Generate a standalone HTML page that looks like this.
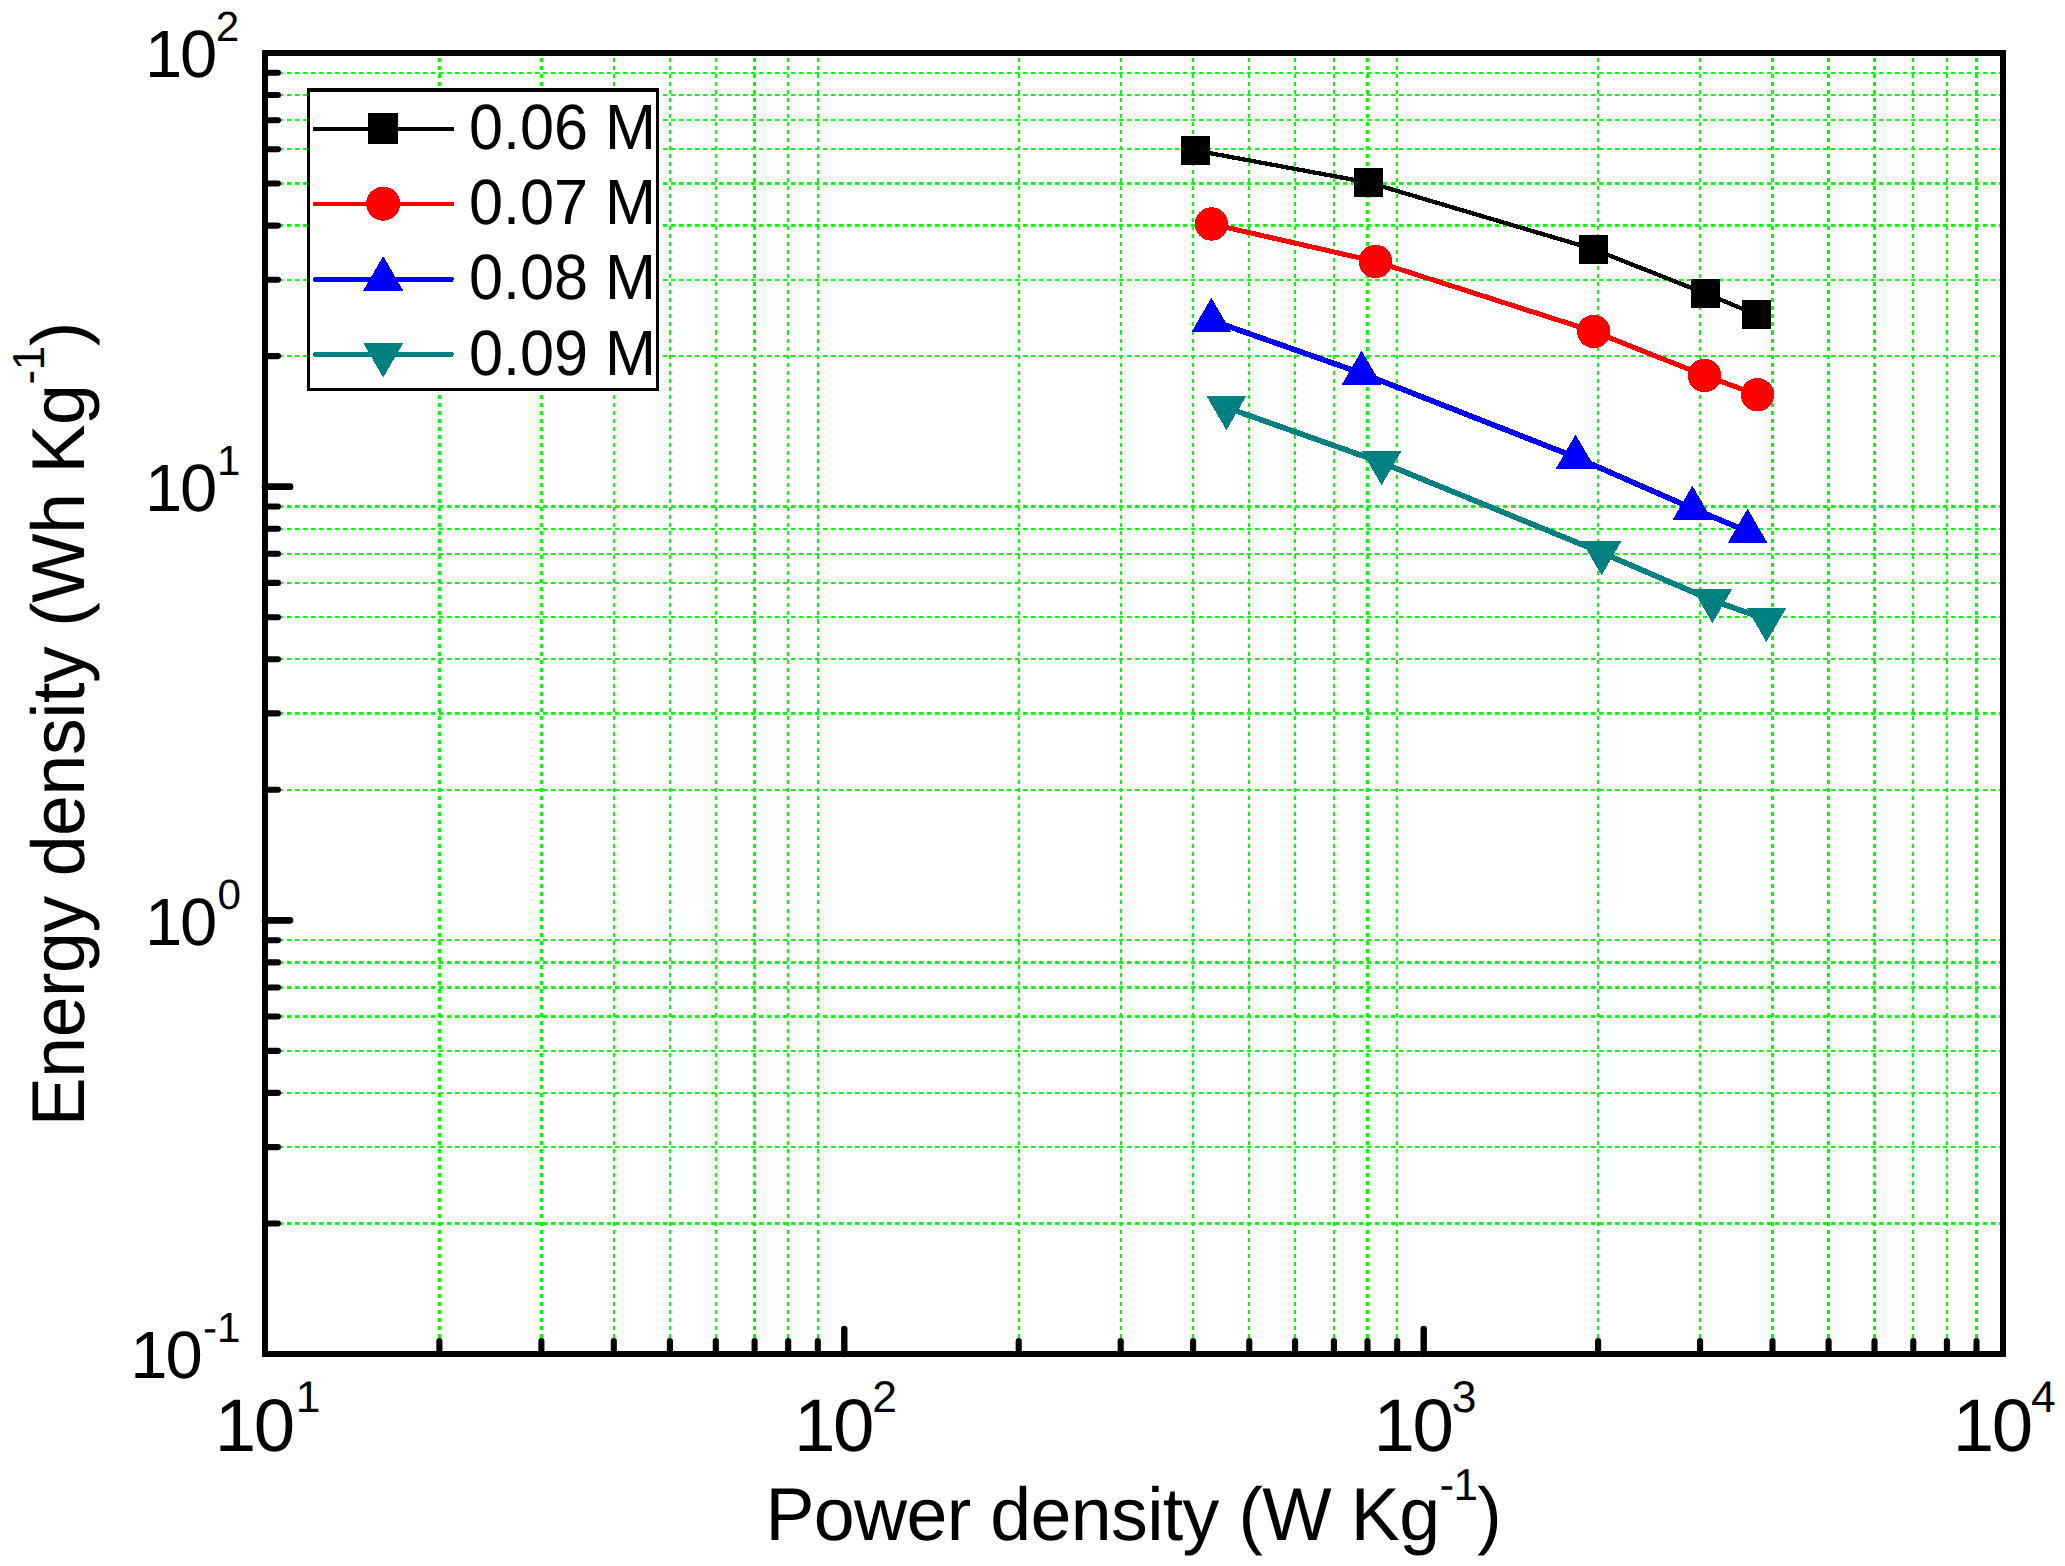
<!DOCTYPE html>
<html lang="en"><head><meta charset="utf-8"><title>Ragone plot</title>
<style>html,body{margin:0;padding:0;background:#fff}body{width:2065px;height:1566px;overflow:hidden}</style></head>
<body>
<svg width="2065" height="1566" viewBox="0 0 2065 1566" style="display:block">
<rect x="0" y="0" width="2065" height="1566" fill="#ffffff"/>
<g stroke="#00ff00" stroke-width="2.3" stroke-dasharray="4 4" fill="none" shape-rendering="crispEdges">
<line x1="439.4" y1="1354.0" x2="439.4" y2="53.0" stroke-dasharray="4.014 4.014" stroke-dashoffset="0.06"/>
<line x1="541.4" y1="1354.0" x2="541.4" y2="53.0" stroke-dasharray="4.014 4.014" stroke-dashoffset="0.06"/>
<line x1="613.8" y1="1354.0" x2="613.8" y2="53.0" stroke-dasharray="4.014 4.014" stroke-dashoffset="0.06"/>
<line x1="669.9" y1="1354.0" x2="669.9" y2="53.0" stroke-dasharray="4.014 4.014" stroke-dashoffset="0.06"/>
<line x1="715.8" y1="1354.0" x2="715.8" y2="53.0" stroke-dasharray="4.014 4.014" stroke-dashoffset="0.06"/>
<line x1="754.6" y1="1354.0" x2="754.6" y2="53.0" stroke-dasharray="4.014 4.014" stroke-dashoffset="0.06"/>
<line x1="788.2" y1="1354.0" x2="788.2" y2="53.0" stroke-dasharray="4.014 4.014" stroke-dashoffset="0.06"/>
<line x1="817.8" y1="1354.0" x2="817.8" y2="53.0" stroke-dasharray="4.014 4.014" stroke-dashoffset="0.06"/>
<line x1="1018.7" y1="1354.0" x2="1018.7" y2="53.0" stroke-dasharray="4.014 4.014" stroke-dashoffset="0.06"/>
<line x1="1120.7" y1="1354.0" x2="1120.7" y2="53.0" stroke-dasharray="4.014 4.014" stroke-dashoffset="0.06"/>
<line x1="1193.1" y1="1354.0" x2="1193.1" y2="53.0" stroke-dasharray="4.014 4.014" stroke-dashoffset="0.06"/>
<line x1="1249.3" y1="1354.0" x2="1249.3" y2="53.0" stroke-dasharray="4.014 4.014" stroke-dashoffset="0.06"/>
<line x1="1295.1" y1="1354.0" x2="1295.1" y2="53.0" stroke-dasharray="4.014 4.014" stroke-dashoffset="0.06"/>
<line x1="1333.9" y1="1354.0" x2="1333.9" y2="53.0" stroke-dasharray="4.014 4.014" stroke-dashoffset="0.06"/>
<line x1="1367.5" y1="1354.0" x2="1367.5" y2="53.0" stroke-dasharray="4.014 4.014" stroke-dashoffset="0.06"/>
<line x1="1397.2" y1="1354.0" x2="1397.2" y2="53.0" stroke-dasharray="4.014 4.014" stroke-dashoffset="0.06"/>
<line x1="1598.1" y1="1354.0" x2="1598.1" y2="53.0" stroke-dasharray="4.014 4.014" stroke-dashoffset="0.06"/>
<line x1="1700.1" y1="1354.0" x2="1700.1" y2="53.0" stroke-dasharray="4.014 4.014" stroke-dashoffset="0.06"/>
<line x1="1772.5" y1="1354.0" x2="1772.5" y2="53.0" stroke-dasharray="4.014 4.014" stroke-dashoffset="0.06"/>
<line x1="1828.6" y1="1354.0" x2="1828.6" y2="53.0" stroke-dasharray="4.014 4.014" stroke-dashoffset="0.06"/>
<line x1="1874.5" y1="1354.0" x2="1874.5" y2="53.0" stroke-dasharray="4.014 4.014" stroke-dashoffset="0.06"/>
<line x1="1913.3" y1="1354.0" x2="1913.3" y2="53.0" stroke-dasharray="4.014 4.014" stroke-dashoffset="0.06"/>
<line x1="1946.9" y1="1354.0" x2="1946.9" y2="53.0" stroke-dasharray="4.014 4.014" stroke-dashoffset="0.06"/>
<line x1="1976.5" y1="1354.0" x2="1976.5" y2="53.0" stroke-dasharray="4.014 4.014" stroke-dashoffset="0.06"/>
<line x1="263" y1="1223.5" x2="2003.0" y2="1223.5"/>
<line x1="263" y1="1147.1" x2="2003.0" y2="1147.1"/>
<line x1="263" y1="1092.9" x2="2003.0" y2="1092.9"/>
<line x1="263" y1="1050.9" x2="2003.0" y2="1050.9"/>
<line x1="263" y1="1016.5" x2="2003.0" y2="1016.5"/>
<line x1="263" y1="987.5" x2="2003.0" y2="987.5"/>
<line x1="263" y1="962.4" x2="2003.0" y2="962.4"/>
<line x1="263" y1="940.2" x2="2003.0" y2="940.2"/>
<line x1="263" y1="789.8" x2="2003.0" y2="789.8"/>
<line x1="263" y1="713.4" x2="2003.0" y2="713.4"/>
<line x1="263" y1="659.2" x2="2003.0" y2="659.2"/>
<line x1="263" y1="617.2" x2="2003.0" y2="617.2"/>
<line x1="263" y1="582.9" x2="2003.0" y2="582.9"/>
<line x1="263" y1="553.8" x2="2003.0" y2="553.8"/>
<line x1="263" y1="528.7" x2="2003.0" y2="528.7"/>
<line x1="263" y1="506.5" x2="2003.0" y2="506.5"/>
<line x1="263" y1="356.1" x2="2003.0" y2="356.1"/>
<line x1="263" y1="279.8" x2="2003.0" y2="279.8"/>
<line x1="263" y1="225.6" x2="2003.0" y2="225.6"/>
<line x1="263" y1="183.5" x2="2003.0" y2="183.5"/>
<line x1="263" y1="149.2" x2="2003.0" y2="149.2"/>
<line x1="263" y1="120.2" x2="2003.0" y2="120.2"/>
<line x1="263" y1="95.0" x2="2003.0" y2="95.0"/>
<line x1="263" y1="72.8" x2="2003.0" y2="72.8"/>
</g>
<g shape-rendering="crispEdges">
<polyline points="1195.5,150.5 1368.5,182.5 1593.0,249.0 1705.5,293.5 1756.5,314.5" fill="none" stroke="#000000" stroke-width="4.3" stroke-linejoin="round"/>
<rect x="1181.0" y="136.0" width="29" height="29" fill="#000000"/>
<rect x="1354.0" y="168.0" width="29" height="29" fill="#000000"/>
<rect x="1578.5" y="234.5" width="29" height="29" fill="#000000"/>
<rect x="1691.0" y="279.0" width="29" height="29" fill="#000000"/>
<rect x="1742.0" y="300.0" width="29" height="29" fill="#000000"/>
<polyline points="1211.5,224.0 1375.5,261.5 1593.8,331.5 1704.5,375.5 1757.5,394.8" fill="none" stroke="#ff0000" stroke-width="5" stroke-linejoin="round"/>
<circle cx="1211.5" cy="224.0" r="16.7" fill="#ff0000"/>
<circle cx="1375.5" cy="261.5" r="16.7" fill="#ff0000"/>
<circle cx="1593.8" cy="331.5" r="16.7" fill="#ff0000"/>
<circle cx="1704.5" cy="375.5" r="16.7" fill="#ff0000"/>
<circle cx="1757.5" cy="394.8" r="16.7" fill="#ff0000"/>
<polyline points="1211.4,320.4 1361.6,373.2 1575.6,457.2 1692.4,508.4 1747.6,531.4" fill="none" stroke="#0000ff" stroke-width="5.6" stroke-linejoin="round"/>
<polygon points="1211.4,297.7 1231.1,331.7 1191.7,331.7" fill="#0000ff"/>
<polygon points="1361.6,350.5 1381.3,384.5 1341.9,384.5" fill="#0000ff"/>
<polygon points="1575.6,434.5 1595.3,468.5 1555.9,468.5" fill="#0000ff"/>
<polygon points="1692.4,485.7 1712.1,519.7 1672.7,519.7" fill="#0000ff"/>
<polygon points="1747.6,508.7 1767.3,542.7 1727.9,542.7" fill="#0000ff"/>
<polyline points="1226.4,407.5 1381.6,462.5 1601.6,552.6 1712.4,600.4 1766.4,619.4" fill="none" stroke="#008080" stroke-width="5.6" stroke-linejoin="round"/>
<polygon points="1226.4,430.2 1246.1,396.2 1206.7,396.2" fill="#008080"/>
<polygon points="1381.6,485.2 1401.3,451.2 1361.9,451.2" fill="#008080"/>
<polygon points="1601.6,575.3 1621.3,541.3 1581.9,541.3" fill="#008080"/>
<polygon points="1712.4,623.1 1732.1,589.1 1692.7,589.1" fill="#008080"/>
<polygon points="1766.4,642.1 1786.1,608.1 1746.7,608.1" fill="#008080"/>
</g>
<g stroke="#000" stroke-width="6.1" stroke-linecap="round" fill="none">
<line x1="439.4" y1="1354.0" x2="439.4" y2="1341.0"/>
<line x1="541.4" y1="1354.0" x2="541.4" y2="1341.0"/>
<line x1="613.8" y1="1354.0" x2="613.8" y2="1341.0"/>
<line x1="669.9" y1="1354.0" x2="669.9" y2="1341.0"/>
<line x1="715.8" y1="1354.0" x2="715.8" y2="1341.0"/>
<line x1="754.6" y1="1354.0" x2="754.6" y2="1341.0"/>
<line x1="788.2" y1="1354.0" x2="788.2" y2="1341.0"/>
<line x1="817.8" y1="1354.0" x2="817.8" y2="1341.0"/>
<line x1="844.3" y1="1354.0" x2="844.3" y2="1329.0" stroke-width="6.4"/>
<line x1="1018.7" y1="1354.0" x2="1018.7" y2="1341.0"/>
<line x1="1120.7" y1="1354.0" x2="1120.7" y2="1341.0"/>
<line x1="1193.1" y1="1354.0" x2="1193.1" y2="1341.0"/>
<line x1="1249.3" y1="1354.0" x2="1249.3" y2="1341.0"/>
<line x1="1295.1" y1="1354.0" x2="1295.1" y2="1341.0"/>
<line x1="1333.9" y1="1354.0" x2="1333.9" y2="1341.0"/>
<line x1="1367.5" y1="1354.0" x2="1367.5" y2="1341.0"/>
<line x1="1397.2" y1="1354.0" x2="1397.2" y2="1341.0"/>
<line x1="1423.7" y1="1354.0" x2="1423.7" y2="1329.0" stroke-width="6.4"/>
<line x1="1598.1" y1="1354.0" x2="1598.1" y2="1341.0"/>
<line x1="1700.1" y1="1354.0" x2="1700.1" y2="1341.0"/>
<line x1="1772.5" y1="1354.0" x2="1772.5" y2="1341.0"/>
<line x1="1828.6" y1="1354.0" x2="1828.6" y2="1341.0"/>
<line x1="1874.5" y1="1354.0" x2="1874.5" y2="1341.0"/>
<line x1="1913.3" y1="1354.0" x2="1913.3" y2="1341.0"/>
<line x1="1946.9" y1="1354.0" x2="1946.9" y2="1341.0"/>
<line x1="1976.5" y1="1354.0" x2="1976.5" y2="1341.0"/>
<line x1="265.0" y1="1223.5" x2="278.0" y2="1223.5"/>
<line x1="265.0" y1="1147.1" x2="278.0" y2="1147.1"/>
<line x1="265.0" y1="1092.9" x2="278.0" y2="1092.9"/>
<line x1="265.0" y1="1050.9" x2="278.0" y2="1050.9"/>
<line x1="265.0" y1="1016.5" x2="278.0" y2="1016.5"/>
<line x1="265.0" y1="987.5" x2="278.0" y2="987.5"/>
<line x1="265.0" y1="962.4" x2="278.0" y2="962.4"/>
<line x1="265.0" y1="940.2" x2="278.0" y2="940.2"/>
<line x1="265.0" y1="920.3" x2="290.0" y2="920.3" stroke-width="6.7"/>
<line x1="265.0" y1="789.8" x2="278.0" y2="789.8"/>
<line x1="265.0" y1="713.4" x2="278.0" y2="713.4"/>
<line x1="265.0" y1="659.2" x2="278.0" y2="659.2"/>
<line x1="265.0" y1="617.2" x2="278.0" y2="617.2"/>
<line x1="265.0" y1="582.9" x2="278.0" y2="582.9"/>
<line x1="265.0" y1="553.8" x2="278.0" y2="553.8"/>
<line x1="265.0" y1="528.7" x2="278.0" y2="528.7"/>
<line x1="265.0" y1="506.5" x2="278.0" y2="506.5"/>
<line x1="265.0" y1="486.7" x2="290.0" y2="486.7" stroke-width="6.7"/>
<line x1="265.0" y1="356.1" x2="278.0" y2="356.1"/>
<line x1="265.0" y1="279.8" x2="278.0" y2="279.8"/>
<line x1="265.0" y1="225.6" x2="278.0" y2="225.6"/>
<line x1="265.0" y1="183.5" x2="278.0" y2="183.5"/>
<line x1="265.0" y1="149.2" x2="278.0" y2="149.2"/>
<line x1="265.0" y1="120.2" x2="278.0" y2="120.2"/>
<line x1="265.0" y1="95.0" x2="278.0" y2="95.0"/>
<line x1="265.0" y1="72.8" x2="278.0" y2="72.8"/>
</g>
<rect x="265.0" y="53.0" width="1738.0" height="1301.0" fill="none" stroke="#000" stroke-width="6" shape-rendering="crispEdges"/>
<g shape-rendering="crispEdges">
<rect x="307" y="88" width="351.5" height="302.5" fill="#000"/>
<rect x="310" y="92" width="345.7" height="295.5" fill="#fff"/>
<line x1="313" y1="128.8" x2="453.7" y2="128.8" stroke="#000000" stroke-width="4" stroke-linecap="butt"/>
<rect x="367.8" y="113" width="30" height="30.8" fill="#000000"/>
<line x1="313" y1="203.7" x2="453.7" y2="203.7" stroke="#ff0000" stroke-width="4" stroke-linecap="butt"/>
<circle cx="383.2" cy="203.7" r="17.0" fill="#ff0000"/>
<line x1="315.5" y1="279.3" x2="451.2" y2="279.3" stroke="#0000ff" stroke-width="5" stroke-linecap="round"/>
<polygon points="383.2,256.0 403.4,291.0 363.0,291.0" fill="#0000ff"/>
<line x1="315.5" y1="354.3" x2="451.2" y2="354.3" stroke="#008080" stroke-width="5" stroke-linecap="round"/>
<polygon points="383.2,377.6 403.4,342.6 363.0,342.6" fill="#008080"/>
</g>
<g font-family="Liberation Sans, Arial, sans-serif" fill="#000" text-rendering="geometricPrecision">
<text transform="translate(469,148.8) scale(1,1.045)" font-size="61.2">0.06 M</text>
<text transform="translate(469,223.5) scale(1,1.045)" font-size="61.2">0.07 M</text>
<text transform="translate(469,298.8) scale(1,1.045)" font-size="61.2">0.08 M</text>
<text transform="translate(469,374.7) scale(1,1.045)" font-size="61.2">0.09 M</text>
<text y="1451.0" font-size="74.5"><tspan x="214.7">1</tspan><tspan x="253.7">0</tspan><tspan font-size="44.4" x="295.7" dy="-39">1</tspan></text>
<text y="1451.0" font-size="74.5"><tspan x="794.1">1</tspan><tspan x="833.0">0</tspan><tspan font-size="44.4" x="872.3" dy="-39">2</tspan></text>
<text y="1451.0" font-size="74.5"><tspan x="1373.4">1</tspan><tspan x="1412.4">0</tspan><tspan font-size="44.4" x="1451.8" dy="-39">3</tspan></text>
<text y="1451.0" font-size="74.5"><tspan x="1952.7">1</tspan><tspan x="1991.7">0</tspan><tspan font-size="44.4" x="2031.0" dy="-39">4</tspan></text>
<text y="1378.2" font-size="67"><tspan x="130.3">1</tspan><tspan x="165.4">0</tspan><tspan font-size="42.2" x="203.0" dy="-36">-</tspan><tspan font-size="42.2" x="217.1">1</tspan></text>
<text y="944.5" font-size="67"><tspan x="144.9">1</tspan><tspan x="180.0">0</tspan><tspan font-size="42.2" x="217.6" dy="-36">0</tspan></text>
<text y="510.9" font-size="67"><tspan x="144.9">1</tspan><tspan x="180.0">0</tspan><tspan font-size="42.2" x="217.1" dy="-36">1</tspan></text>
<text y="77.2" font-size="67"><tspan x="144.9">1</tspan><tspan x="180.0">0</tspan><tspan font-size="42.2" x="215.7" dy="-36">2</tspan></text>
<text transform="translate(765.5,1539.6) scale(1,1.02)" font-size="73.5" letter-spacing="-0.65">Power density (W Kg<tspan font-size="44" dy="-38.7">-1</tspan><tspan dy="38.7">)</tspan></text>
<text transform="translate(83.8,1126.3) rotate(-90) scale(1,1.02)" font-size="73.5" letter-spacing="-0.47">Energy density (Wh Kg<tspan font-size="44" dy="-38.7">-1</tspan><tspan dy="38.7">)</tspan></text>
</g>
</svg>
</body></html>
